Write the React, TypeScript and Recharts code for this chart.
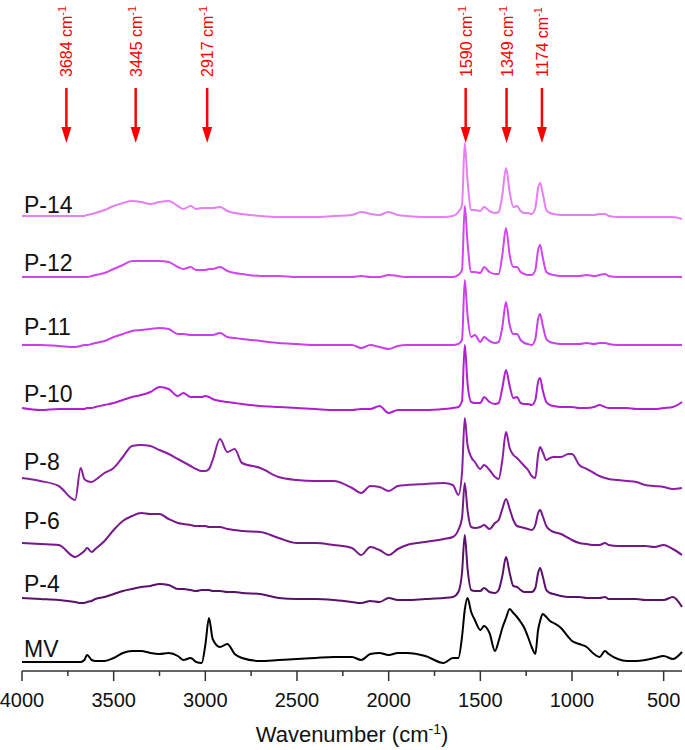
import { LineChart, Line, XAxis, YAxis, ReferenceDot } from 'recharts';

// wavenumber grid (cm-1), denser around the sharp bands
const wavenumbers = [
  4000, 3900, 3800, 3710, 3680, 3660, 3645, 3620, 3600, 3550, 3500,
  3450, 3400, 3350, 3300, 3250, 3200, 3150, 3120, 3080, 3050, 3020,
  3000, 2980, 2960, 2920, 2880, 2840, 2800, 2700, 2600, 2500, 2400,
  2300, 2200, 2150, 2100, 2050, 2000, 1950, 1900, 1800, 1700, 1650,
  1620, 1600, 1585, 1570, 1550, 1530, 1500, 1480, 1450, 1420, 1400,
  1380, 1360, 1340, 1320, 1300, 1280, 1260, 1240, 1220, 1200, 1185,
  1174, 1160, 1140, 1120, 1100, 1060, 1020, 1000, 960, 920, 880,
  850, 820, 800, 750, 700, 650, 600, 550, 500, 450, 400,
];

// absorbance above each trace's own baseline (a.u.)
const p14 = [
  0, 0, 0, 0, 0, 0, 0.01, 0.02, 0.03, 0.06, 0.10,
  0.13, 0.15, 0.14, 0.12, 0.14, 0.15, 0.10, 0.07, 0.10, 0.07, 0.08,
  0.08, 0.08, 0.08, 0.09, 0.05, 0.03, 0.02, 0, -0.01, -0.01, -0.01,
  0, 0.01, 0.04, 0.02, 0.01, 0.04, 0.01, 0, -0.01, -0.01, 0,
  0.04, 0.11, 0.73, 0.36, 0.06, 0.06, 0.05, 0.09, 0.05, 0.03, 0.04,
  0.21, 0.48, 0.24, 0.09, 0.10, 0.05, 0.03, 0.03, 0.02, 0.08, 0.28,
  0.33, 0.23, 0.06, 0.03, 0.02, 0.01, 0.01, 0.01, 0.01, 0.01, 0.01,
  0.02, 0.02, 0, -0.01, -0.01, -0.01, -0.01, -0.01, -0.01, -0.01, -0.03,
];
const p12 = [
  0, 0, 0, 0, 0, 0, 0, 0.01, 0.02, 0.04, 0.08,
  0.12, 0.16, 0.16, 0.16, 0.16, 0.15, 0.10, 0.08, 0.10, 0.07, 0.07,
  0.07, 0.08, 0.08, 0.10, 0.06, 0.04, 0.03, 0.01, 0.01, 0, 0,
  0, 0, 0.01, 0, 0, 0.02, 0.01, 0, 0, 0, 0,
  0.02, 0.07, 0.71, 0.35, 0.05, 0.05, 0.04, 0.10, 0.05, 0.03, 0.03,
  0.22, 0.49, 0.22, 0.10, 0.10, 0.05, 0.03, 0.02, 0.02, 0.07, 0.27,
  0.32, 0.20, 0.05, 0.03, 0.02, 0.01, 0.01, 0.01, 0.01, 0.02, 0.01,
  0.02, 0.03, 0.01, 0, 0, 0, 0, 0, 0, 0, 0,
];
const p11 = [
  0, 0, -0.01, -0.02, -0.01, 0, 0, 0.01, 0.02, 0.04, 0.08,
  0.11, 0.14, 0.15, 0.16, 0.17, 0.16, 0.11, 0.11, 0.10, 0.10, 0.10,
  0.10, 0.10, 0.10, 0.12, 0.08, 0.07, 0.06, 0.04, 0.02, 0.01, 0,
  0, 0, -0.03, 0, -0.02, -0.04, -0.01, 0, 0, 0, 0,
  0.01, 0.05, 0.65, 0.30, 0.08, 0.10, 0.03, 0.08, 0.04, 0.02, 0.03,
  0.18, 0.43, 0.20, 0.11, 0.11, 0.05, 0.02, 0.01, 0, 0.06, 0.26,
  0.31, 0.20, 0.06, 0.03, 0.02, 0.01, 0.01, 0.01, 0.01, 0.02, 0.01,
  0.02, 0.02, 0.01, 0, 0, 0, 0, 0, 0, 0, 0,
];
const p10 = [
  0, -0.02, -0.01, -0.01, -0.01, -0.01, 0, 0, 0.01, 0.03, 0.05,
  0.08, 0.11, 0.13, 0.16, 0.21, 0.19, 0.12, 0.15, 0.11, 0.11, 0.11,
  0.12, 0.11, 0.09, 0.07, 0.06, 0.05, 0.04, 0.02, 0.01, 0, -0.01,
  -0.02, -0.02, -0.01, -0.01, 0.02, -0.05, -0.02, -0.02, -0.02, -0.01, 0,
  0.01, 0.07, 0.63, 0.25, 0.06, 0.05, 0.05, 0.11, 0.06, 0.04, 0.05,
  0.20, 0.38, 0.22, 0.10, 0.11, 0.05, 0.04, 0.04, 0.03, 0.08, 0.26,
  0.30, 0.18, 0.06, 0.03, 0.02, 0.01, 0.01, 0.01, 0, 0, 0.01,
  0.03, 0.01, 0, 0, 0, -0.01, -0.01, -0.01, 0, 0.01, 0.06,
];
const p8 = [
  0, -0.03, -0.08, -0.22, 0.10, -0.01, -0.03, -0.04, -0.02, 0.05, 0.10,
  0.21, 0.32, 0.33, 0.32, 0.28, 0.24, 0.19, 0.16, 0.12, 0.09, 0.07,
  0.07, 0.09, 0.18, 0.39, 0.26, 0.29, 0.15, 0.10, 0.01, -0.02, -0.03,
  -0.03, -0.10, -0.15, -0.08, -0.09, -0.13, -0.08, -0.07, -0.06, -0.05, -0.07,
  -0.17, 0.05, 0.60, 0.33, 0.21, 0.16, 0.09, 0.13, 0.08, 0.01, -0.01,
  0.18, 0.46, 0.30, 0.23, 0.20, 0.16, 0.12, 0.08, 0.02, 0, 0.23,
  0.31, 0.26, 0.18, 0.20, 0.21, 0.21, 0.24, 0.24, 0.13, 0.09, 0.05,
  0.02, 0, -0.01, -0.02, -0.03, -0.04, -0.07, -0.08, -0.09, -0.11, -0.10,
];
const p6 = [
  -0.03, -0.04, -0.05, -0.17, -0.14, -0.11, -0.08, -0.12, -0.09, -0.01, 0.10,
  0.19, 0.24, 0.27, 0.26, 0.26, 0.21, 0.17, 0.16, 0.15, 0.14, 0.14,
  0.14, 0.13, 0.13, 0.13, 0.11, 0.10, 0.09, 0.08, 0.02, -0.03, -0.03,
  -0.05, -0.08, -0.15, -0.07, -0.10, -0.15, -0.09, -0.05, -0.02, 0.01, 0.03,
  0.10, 0.22, 0.57, 0.30, 0.13, 0.12, 0.13, 0.15, 0.11, 0.17, 0.20,
  0.31, 0.41, 0.31, 0.20, 0.14, 0.13, 0.12, 0.11, 0.10, 0.15, 0.27,
  0.30, 0.24, 0.14, 0.10, 0.08, 0.06, 0.02, 0, -0.03, -0.04, -0.05,
  -0.05, -0.03, -0.05, -0.06, -0.06, -0.06, -0.06, -0.07, -0.05, -0.09, -0.15,
];
const p4 = [
  0, -0.01, -0.02, -0.04, -0.05, -0.05, -0.04, -0.03, -0.01, 0.01, 0.04,
  0.07, 0.09, 0.11, 0.12, 0.14, 0.13, 0.09, 0.09, 0.08, 0.07, 0.08,
  0.08, 0.08, 0.07, 0.07, 0.06, 0.06, 0.05, 0.04, 0, -0.01, -0.01,
  -0.02, -0.04, -0.05, -0.03, -0.04, 0, -0.02, -0.02, -0.01, 0, 0.01,
  0.06, 0.25, 0.63, 0.30, 0.08, 0.07, 0.07, 0.10, 0.06, 0.05, 0.08,
  0.22, 0.41, 0.25, 0.12, 0.11, 0.08, 0.06, 0.06, 0.06, 0.10, 0.25,
  0.30, 0.22, 0.08, 0.05, 0.04, 0.02, 0.01, 0.01, 0.01, 0, 0,
  0, 0.01, -0.01, -0.01, -0.01, -0.01, -0.02, -0.02, -0.02, 0.01, -0.09,
];
const mv = [
  -0.01, -0.01, -0.01, -0.01, -0.01, 0.01, 0.06, 0.01, 0, 0, 0.03,
  0.08, 0.10, 0.10, 0.08, 0.07, 0.08, 0.05, 0.01, 0.03, -0.01, -0.02,
  0.16, 0.43, 0.22, 0.14, 0.17, 0.07, 0.03, 0, 0.01, 0.02, 0.03,
  0.04, 0.04, 0.01, 0.07, 0.08, 0.06, 0.08, 0.08, 0.05, -0.02, 0.03,
  0.03, 0.24, 0.51, 0.63, 0.49, 0.41, 0.31, 0.35, 0.28, 0.10, 0.20,
  0.33, 0.43, 0.52, 0.48, 0.44, 0.39, 0.33, 0.24, 0.14, 0.07, 0.31,
  0.40, 0.47, 0.44, 0.40, 0.38, 0.33, 0.24, 0.20, 0.17, 0.14, 0.07,
  0.04, 0.10, 0.07, 0.02, 0, 0, 0.01, 0.03, 0.05, 0.02, 0.09,
];

const seriesNames = ['P-14', 'P-12', 'P-11', 'P-10', 'P-8', 'P-6', 'P-4', 'MV'];
const seriesValues = [p14, p12, p11, p10, p8, p6, p4, mv];
// vertical stacking offsets of each spectrum
const offsets = [4.55, 3.94, 3.26, 2.63, 1.93, 1.31, 0.73, 0.1];
const labelLevels = [4.58, 4.0, 3.36, 2.69, 2.01, 1.42, 0.79, 0.14];
const colors = ['#e57ff2', '#d246f0', '#c940ea', '#b01fd0', '#8c1ea4', '#77178c', '#5a116c', '#000000'];

// marked bands
const bandLabels = ['3684', '3445', '2917', '1590', '1349', '1174'];
const bandPositions = [3758, 3380, 2990, 1580, 1357, 1164];
const arrowTip = 5.28;

const xTicks = [4000, 3750, 3500, 3250, 3000, 2750, 2500, 2250, 2000, 1750, 1500, 1250, 1000, 750, 500];

const chartData = wavenumbers.map((w, i) => {
  const row: any = { w };
  seriesNames.forEach((name, k) => {
    row[name] = +(offsets[k] + seriesValues[k][i]).toFixed(3);
  });
  return row;
});

const FONT = "'Liberation Sans', Arial, sans-serif";

const WaveTick = (props: any) => {
  const { x, y, payload } = props;
  const major = payload.value % 500 === 0;
  return (
    <g>
      <line x1={x} x2={x} y1={y} y2={y + (major ? 10 : 5)} stroke="#333" strokeWidth={1.5} />
      {major && (
        <text x={x} y={y + 36} textAnchor="middle" fontSize={20} fill="#111" fontFamily={FONT}>
          {payload.value}
        </text>
      )}
    </g>
  );
};

const AxisTitle = (props: any) => {
  const vb = props.viewBox || { x: 22, y: 671, width: 660, height: 79 };
  return (
    <text x={vb.x + vb.width / 2} y={vb.y + 71} textAnchor="middle" fontSize={22} fill="#111" fontFamily={FONT}>
      Wavenumber (cm<tspan dy={-8} fontSize={14}>-1</tspan>
      <tspan dy={8}>)</tspan>
    </text>
  );
};

export default function App() {
  return (
    <div style={{ position: 'absolute', left: 0, top: 0, width: 685, height: 750, background: '#fff' }}>
      <LineChart
        width={685}
        height={750}
        data={chartData}
        margin={{ top: 0, right: 3, left: 22, bottom: 0 }}
        style={{ fontFamily: FONT }}
      >
        <XAxis
          dataKey="w"
          type="number"
          domain={[400, 4000]}
          reversed
          ticks={xTicks}
          interval={0}
          height={79}
          tickSize={0}
          tickMargin={0}
          tickLine={false}
          axisLine={{ stroke: '#333', strokeWidth: 1.5 }}
          tick={<WaveTick />}
          label={{ content: AxisTitle }}
        />
        <YAxis hide width={0} type="number" domain={[0, 6.71]} />

        {seriesNames.map((name, k) => (
          <Line
            key={name}
            type="monotone"
            dataKey={name}
            stroke={colors[k]}
            strokeWidth={2}
            dot={false}
            activeDot={false}
            isAnimationActive={false}
          />
        ))}

        {seriesNames.map((name, k) => (
          <ReferenceDot
            key={'lbl' + name}
            x={3989}
            y={labelLevels[k]}
            r={0}
            shape={(p: any) => (
              <text x={p.cx} y={p.cy} fontSize={23} fill="#111" fontFamily={FONT}>
                {name}
              </text>
            )}
          />
        ))}

        {bandLabels.map((lbl, i) => (
          <ReferenceDot
            key={'band' + lbl}
            x={bandPositions[i]}
            y={arrowTip}
            r={0}
            shape={(p: any) => (
              <g>
                <line x1={p.cx} x2={p.cx} y1={p.cy - 55} y2={p.cy - 14} stroke="#ff0000" strokeWidth={2.5} />
                <polygon points={`${p.cx - 5},${p.cy - 16} ${p.cx + 5},${p.cy - 16} ${p.cx},${p.cy}`} fill="#ff0000" />
                <text
                  transform={`translate(${p.cx + 6},${p.cy - 66}) rotate(-90)`}
                  fontSize={16}
                  fill="#ff0000"
                  fontFamily={FONT}
                >
                  {lbl} cm<tspan dy={-6} fontSize={11}>-1</tspan>
                </text>
              </g>
            )}
          />
        ))}
      </LineChart>
    </div>
  );
}
